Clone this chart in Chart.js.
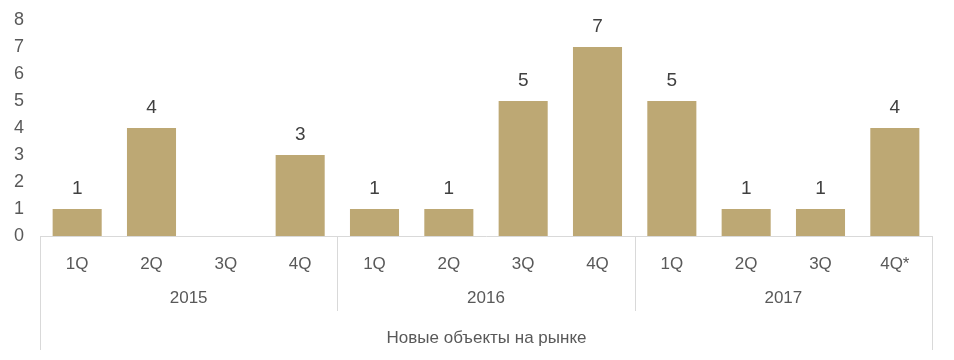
<!DOCTYPE html>
<html>
<head>
<meta charset="utf-8">
<script src="https://cdn.jsdelivr.net/npm/chart.js@4/dist/chart.umd.min.js"></script>
<style>
html,body{margin:0;padding:0;background:#fff;}
#wrap{width:954px;height:360px;position:relative;}
</style>
</head>
<body>
<div id="wrap"><canvas id="c" width="954" height="360"></canvas></div>
<script>
const quarters = ["1Q","2Q","3Q","4Q","1Q","2Q","3Q","4Q","1Q","2Q","3Q","4Q*"];
const years = ["2015","2016","2017"];
const quartersPerYear = 4;
const newObjects = [1,4,0,3,1,1,5,7,5,1,1,4];
const seriesTitle = "Новые объекты на рынке";
const yTicks = [0,1,2,3,4,5,6,7,8];

const FONT = "'Liberation Sans', Arial, sans-serif";
const TEXT = "#595959";
const LINE = "#D9D9D9";

const groupPlugin = {
  id: 'groups',
  afterDraw(chart) {
    const ctx = chart.ctx;
    const x = chart.scales.x;
    const y0 = chart.chartArea.bottom;
    const n = quarters.length;
    const step = (x.getPixelForValue(1) - x.getPixelForValue(0));
    ctx.save();
    ctx.strokeStyle = LINE;
    ctx.lineWidth = 1;
    const leftX = Math.round(x.getPixelForValue(0) - step/2) + 0.5;
    const rightX = Math.round(x.getPixelForValue(n-1) + step/2) + 0.5;
    ctx.beginPath();
    ctx.moveTo(leftX, y0); ctx.lineTo(leftX, 350);
    ctx.moveTo(rightX, y0); ctx.lineTo(rightX, 350);
    for (let g = 1; g < years.length; g++) {
      const bx = Math.round(x.getPixelForValue(g*quartersPerYear) - step/2) + 0.5;
      ctx.moveTo(bx, y0); ctx.lineTo(bx, 311);
    }
    ctx.stroke();
    ctx.fillStyle = TEXT;
    ctx.font = "17px " + FONT;
    ctx.textAlign = 'center';
    ctx.textBaseline = 'middle';
    years.forEach((yr, g) => {
      const a = x.getPixelForValue(g*quartersPerYear) - step/2;
      const b = x.getPixelForValue(g*quartersPerYear + quartersPerYear - 1) + step/2;
      ctx.fillText(yr, (a+b)/2, 298);
    });
    ctx.fillText(seriesTitle, (leftX+rightX)/2, 338);
    const meta = chart.getDatasetMeta(0);
    ctx.fillStyle = "#404040";
    ctx.font = "19px " + FONT;
    meta.data.forEach((bar, i) => {
      const v = newObjects[i];
      if (!v) return;
      ctx.fillText(String(v), bar.x, bar.y - 20);
    });
    ctx.restore();
  }
};

new Chart(document.getElementById('c'), {
  type: 'bar',
  data: {
    labels: quarters,
    datasets: [{
      data: newObjects,
      backgroundColor: '#BDA874',
      borderWidth: 0,
      categoryPercentage: 1,
      barPercentage: 0.66
    }]
  },
  options: {
    responsive: false,
    animation: false,
    devicePixelRatio: 1,
    layout: { padding: { top: 20, right: 22, bottom: 0, left: 0 } },
    plugins: { legend: { display: false }, tooltip: { enabled: false } },
    scales: {
      y: {
        min: 0, max: 8,
        afterFit(s) { s.width = 40; s.paddingTop = 0; s.paddingBottom = 0; },
        afterBuildTicks(s) { s.ticks = yTicks.map(v => ({ value: v })); },
        grid: { display: false, drawTicks: false },
        border: { display: false },
        ticks: { padding: 16, color: TEXT, font: { family: FONT, size: 18 } }
      },
      x: {
        afterFit(s) { s.height = 124; },
        grid: { display: false, drawTicks: false },
        border: { display: true, color: LINE, width: 1 },
        ticks: { padding: 18, color: TEXT, font: { family: FONT, size: 17 }, maxRotation: 0, autoSkip: false }
      }
    }
  },
  plugins: [groupPlugin]
});
</script>
</body>
</html>
